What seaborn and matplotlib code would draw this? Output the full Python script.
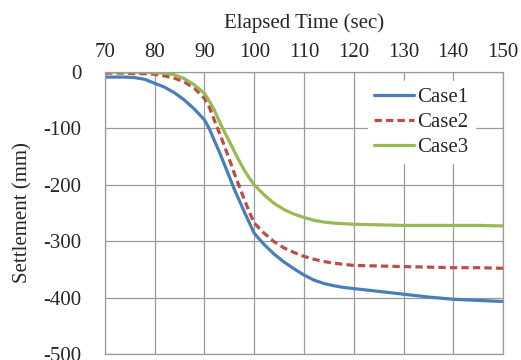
import matplotlib
matplotlib.use("Agg")
import matplotlib.pyplot as plt
import pandas as pd
import seaborn as sns

tempo = [70, 72, 74, 76, 78, 80, 82, 84, 86, 88, 90, 91, 92, 93, 94, 95, 96, 97,
         98, 99, 100, 102, 104, 106, 108, 110, 112, 114, 116, 118, 120, 125,
         130, 135, 140, 145, 150]
case1 = [-9, -9, -9, -10, -13, -20, -27, -37, -50, -66, -85, -101, -122, -142,
         -164, -186, -208, -228, -248, -267, -286, -306, -323, -337, -349,
         -360, -369, -375, -379, -382, -384, -389, -394, -399, -403, -405, -407]
case2 = [-2, -2, -2, -3, -3, -4, -7, -11, -18, -29, -47, -63, -86, -108, -131,
         -155, -180, -203, -226, -248, -268, -286, -301, -312, -320, -327,
         -332, -336, -339, -341, -343, -344, -345, -346, -347, -347, -348]
case3 = [0, 0, 0, 0, 0, -1, -2, -5, -12, -23, -38, -52, -68, -88, -106, -123,
         -141, -158, -174, -188, -200, -218, -233, -244, -252, -258, -263,
         -266, -268, -269, -270, -271, -272, -272, -272, -272, -273]
casos = ["Case1", "Case2", "Case3"]

df = pd.concat([
    pd.DataFrame({"t": tempo, "s": v, "caso": c})
    for c, v in zip(casos, [case1, case2, case3])
])

sns.set_style("white")
plt.rcParams["font.family"] = ["Liberation Serif", "DejaVu Serif"]
plt.rcParams["axes.unicode_minus"] = False

fig = plt.figure(figsize=(5.21, 3.6), dpi=100)
ax = fig.add_axes([0.2015, 0.0167, 0.764, 0.7833])

cores = {"Case1": "#4A7EBB", "Case2": "#BE4B48", "Case3": "#98B954"}
tracos = {"Case1": "", "Case2": (2.3, 1.3), "Case3": ""}
sns.lineplot(data=df, x="t", y="s", hue="caso", style="caso", palette=cores,
             dashes=tracos, linewidth=2.3, ax=ax, legend=True)

ax.set_xlim(70, 150)
ax.set_ylim(-500, 0)
ax.set_xticks(range(70, 151, 10))
ax.set_yticks(range(-500, 1, 100))
ax.xaxis.tick_top()
ax.xaxis.set_label_position("top")
ax.set_xlabel("Elapsed Time (sec)", fontsize=15, labelpad=11)
ax.set_ylabel("Settlement (mm)", fontsize=15, labelpad=8)
ax.tick_params(axis="both", length=0, labelsize=15)
ax.tick_params(axis="x", pad=7)
ax.tick_params(axis="y", pad=17)
ax.grid(True, color="#9a9a9a", linewidth=0.9)
for sp in ax.spines.values():
    sp.set_color("#9a9a9a")
    sp.set_linewidth(0.9)

leg = ax.legend(loc="upper left", bbox_to_anchor=(0.661, 0.968), frameon=True,
                fontsize=15, handlelength=1.9, handletextpad=0.15,
                labelspacing=0.26, borderpad=0.3, borderaxespad=0)
leg.get_frame().set_edgecolor("white")
leg.get_frame().set_facecolor("white")
leg.get_frame().set_alpha(1)
leg.get_frame().set_boxstyle("square", pad=0)

fig.savefig("out.png", dpi=100)
